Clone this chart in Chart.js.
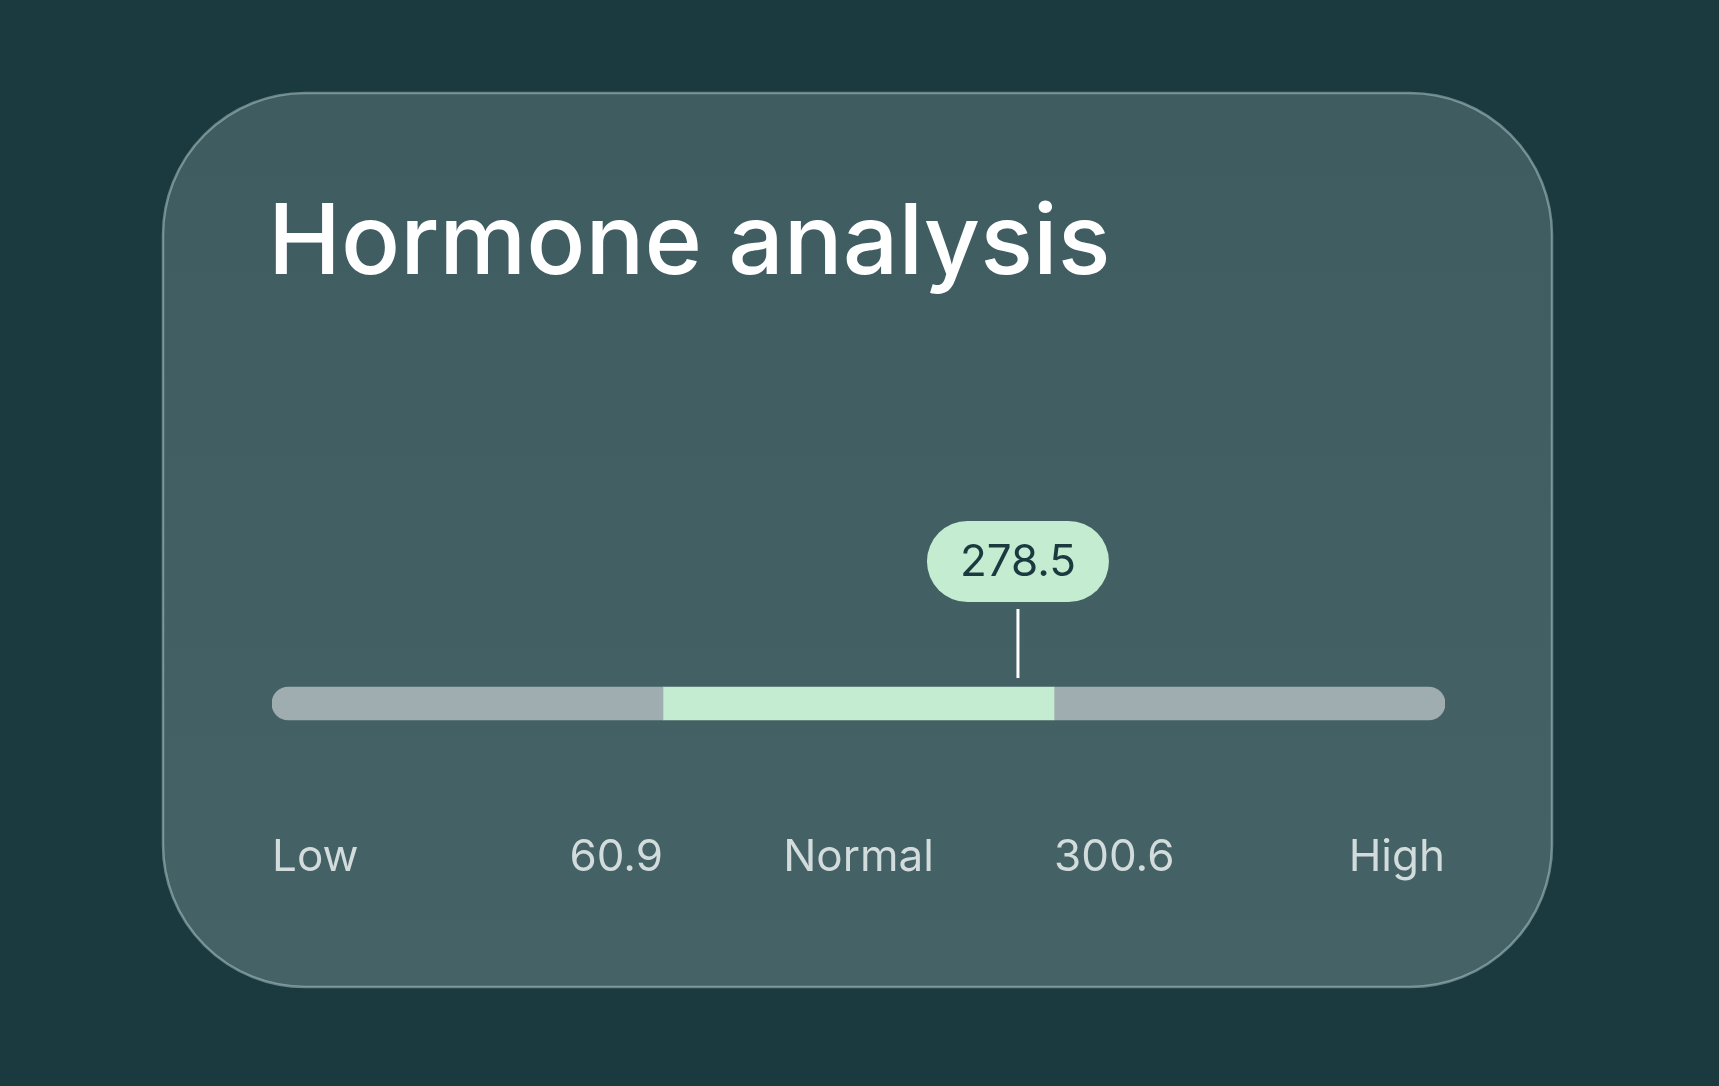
<!DOCTYPE html>
<html><head><meta charset="utf-8">
<script src="https://cdn.jsdelivr.net/npm/chart.js@4"></script>
<style>html,body{margin:0;padding:0;background:#1b3a40;overflow:hidden}#c{display:block}</style>
</head><body>
<div style="width:1719px;height:1086px"><canvas id="c"></canvas></div>
<script>
const title = "Hormone analysis";
const categories = ["Low", "Normal", "High"];
const thresholds = [60.9, 300.6];
const markerValue = 278.5;
const span = thresholds[1] - thresholds[0];
const axisMin = thresholds[0] - span, axisMax = thresholds[1] + span;
const segLow = [axisMin, thresholds[0]], segNormal = [thresholds[0], thresholds[1]], segHigh = [thresholds[1], axisMax];

function rr(ctx,x,y,w,h,r){ctx.beginPath();ctx.moveTo(x+r,y);ctx.arcTo(x+w,y,x+w,y+h,r);ctx.arcTo(x+w,y+h,x,y+h,r);ctx.arcTo(x,y+h,x,y,r);ctx.arcTo(x,y,x+w,y,r);ctx.closePath();}

const bgPlugin = {id:'bg', beforeDraw(chart){
  const ctx=chart.ctx; ctx.save();
  ctx.fillStyle='#1b3a40'; ctx.fillRect(0,0,chart.width,chart.height);
  rr(ctx,163,93,1389,894,142);
  const g=ctx.createLinearGradient(0,93,0,987); g.addColorStop(0,'#3f5c60'); g.addColorStop(1,'#456266');
  ctx.fillStyle=g; ctx.fill();
  ctx.lineWidth=2.5; ctx.strokeStyle='rgba(200,225,225,0.45)'; ctx.stroke();
  ctx.fillStyle='#ffffff'; ctx.font='500 98px Inter'; ctx.textBaseline='alphabetic'; ctx.textAlign='left';
  ctx.fillText(title,268,274);
  ctx.restore();
}};
const overPlugin = {id:'over', afterDatasetsDraw(chart){
  const ctx=chart.ctx, xs=chart.scales.x; ctx.save();
  const y=871; ctx.font='44px Inter'; ctx.fillStyle='#d3dcdc'; ctx.textBaseline='alphabetic';
  ctx.textAlign='left'; ctx.fillText(categories[0], xs.getPixelForValue(axisMin), y);
  ctx.textAlign='right'; ctx.fillText(String(thresholds[0]), xs.getPixelForValue(thresholds[0]), y);
  ctx.textAlign='center'; ctx.fillText(categories[1], xs.getPixelForValue((thresholds[0]+thresholds[1])/2), y);
  ctx.textAlign='left'; ctx.fillText(String(thresholds[1]), xs.getPixelForValue(thresholds[1]), y);
  ctx.textAlign='right'; ctx.fillText(categories[2], xs.getPixelForValue(axisMax), y);
  const mx=xs.getPixelForValue(markerValue);
  ctx.strokeStyle='#ffffff'; ctx.lineWidth=3; ctx.beginPath(); ctx.moveTo(mx,609); ctx.lineTo(mx,678); ctx.stroke();
  rr(ctx,mx-91,521,182,81,40.5); ctx.fillStyle='#c4ecd0'; ctx.fill();
  ctx.fillStyle='#1b3a40'; ctx.font='44px Inter'; ctx.textAlign='center'; ctx.textBaseline='middle';
  ctx.fillText(String(markerValue), mx, 563);
  ctx.restore();
}};
new Chart(document.getElementById('c'),{
  type:'bar',
  data:{labels:['v'],datasets:[
    {data:[segLow],backgroundColor:'#a0adb0',borderRadius:{topLeft:17,bottomLeft:17},borderSkipped:false},
    {data:[segNormal],backgroundColor:'#c4ecd0',borderRadius:0,borderSkipped:false},
    {data:[segHigh],backgroundColor:'#a0adb0',borderRadius:{topRight:17,bottomRight:17},borderSkipped:false}
  ]},
  options:{indexAxis:'y',responsive:true,maintainAspectRatio:false,animation:false,
    barThickness:33,grouped:false,
    layout:{padding:{left:272,right:274,top:670,bottom:349}},
    plugins:{legend:{display:false},tooltip:{enabled:false}},
    scales:{x:{type:'linear',min:axisMin,max:axisMax,display:false},y:{display:false}}},
  plugins:[bgPlugin,overPlugin]
});
</script></body></html>
